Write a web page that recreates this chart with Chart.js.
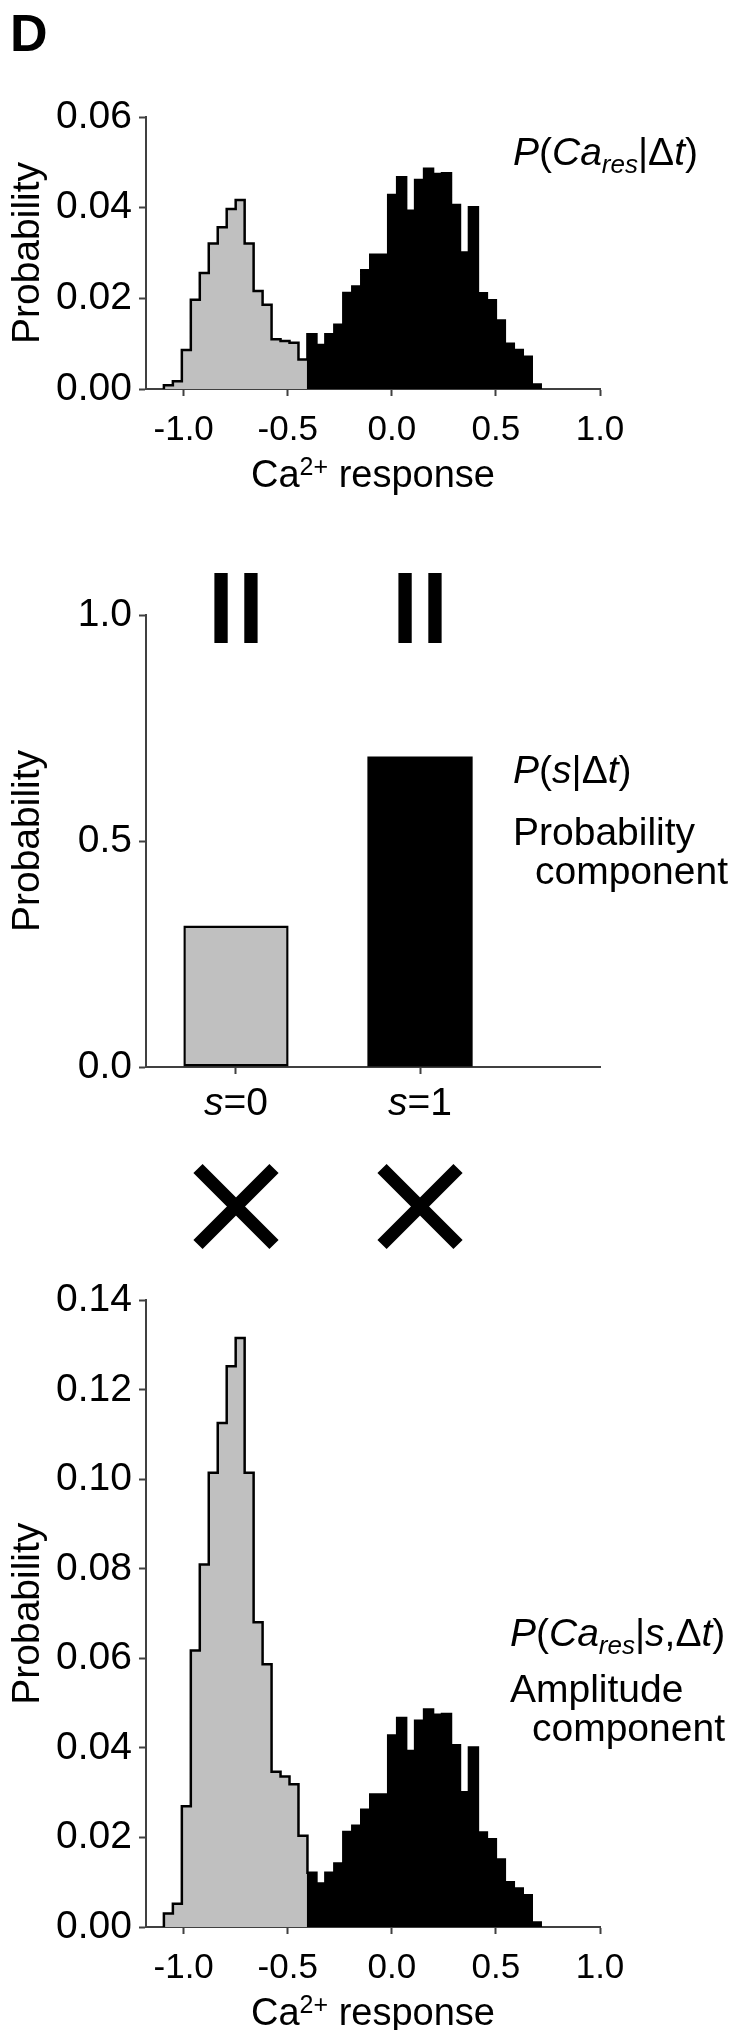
<!DOCTYPE html>
<html>
<head>
<meta charset="utf-8">
<script src="https://cdn.jsdelivr.net/npm/chart.js@4.4.1/dist/chart.umd.min.js"></script>
<style>
  html, body { margin: 0; padding: 0; background: #fff; }
  body { width: 739px; height: 2030px; position: relative; overflow: hidden; }
  canvas { position: absolute; left: 0; }
</style>
</head>
<body>
<canvas id="mixChart" width="739" height="500" style="top:0"></canvas>
<canvas id="stateChart" width="739" height="770" style="top:500px"></canvas>
<canvas id="ampChart" width="739" height="760" style="top:1270px"></canvas>
<script>
// histogram bins on the Ca2+ response axis (first 16 bins are s=0)
const binStart = -1.095;
const binWidth = 0.0431;

// P(Ca_res | dt): s=0 part and s=1 part
const mixSilent = [0.0008, 0.0017, 0.0086, 0.0197, 0.0256, 0.0321, 0.0357, 0.0397,
                   0.0417, 0.0321, 0.0216, 0.0186, 0.0110, 0.0106, 0.0102, 0.0065];
const evoked = [0.0121, 0.0097, 0.0121, 0.0142, 0.0212, 0.0226, 0.0262, 0.0296, 0.0296,
                0.0428, 0.0467, 0.0393, 0.0461, 0.0486, 0.0474, 0.0476, 0.0406, 0.0301,
                0.0401, 0.0211, 0.0196, 0.0151, 0.0100, 0.0086, 0.0071, 0.0010];
// P(Ca_res | s, dt) for s=0 (s=1 part is drawn from the same evoked values)
const ampSilent = [0.0030, 0.0052, 0.0270, 0.0618, 0.0810, 0.1015, 0.1126, 0.1253,
                   0.1316, 0.1015, 0.0681, 0.0587, 0.0347, 0.0336, 0.0319, 0.0204];

// P(s | dt)
const states = ['0', '1'];
const stateProb = [0.313, 0.687];

// axes
const respMin = -1.181, respMax = 1.0;
const respTicks = [-1, -0.5, 0, 0.5, 1];
const respLabels = ['-1.0', '-0.5', '0.0', '0.5', '1.0'];
const mixTicks = [0, 0.02, 0.04, 0.06];
const mixLabels = ['0.00', '0.02', '0.04', '0.06'];
const stateTicks = [0, 0.5, 1];
const stateLabels = ['0.0', '0.5', '1.0'];
const ampTicks = [0, 0.02, 0.04, 0.06, 0.08, 0.10, 0.12, 0.14];
const ampLabels = ['0.00', '0.02', '0.04', '0.06', '0.08', '0.10', '0.12', '0.14'];
const stateMin = -0.489, stateMax = 1.978;

const FONT = '"Liberation Sans", Arial, Helvetica, sans-serif';
const GRAY = 'rgb(192,192,192)';
const AXIS = '#404040';

Chart.defaults.font.family = FONT;
Chart.defaults.color = '#000';

function font(size, italic, bold) {
  return (italic ? 'italic ' : '') + (bold ? 'bold ' : '') + size + 'px ' + FONT;
}

function runsWidth(ctx, runs, size) {
  let w = 0;
  runs.forEach(r => { ctx.font = font(r.size || size, r.italic, r.bold); w += ctx.measureText(r.text).width; });
  return w;
}

function drawRuns(ctx, x, y, runs, size) {
  ctx.save();
  ctx.fillStyle = '#000';
  ctx.textAlign = 'left';
  ctx.textBaseline = 'alphabetic';
  runs.forEach(r => {
    ctx.font = font(r.size || size, r.italic, r.bold);
    ctx.fillText(r.text, x, y + (r.dy || 0));
    x += ctx.measureText(r.text).width;
  });
  ctx.restore();
}

function drawRunsCentered(ctx, cx, y, runs, size) {
  drawRuns(ctx, cx - runsWidth(ctx, runs, size) / 2, y, runs, size);
}

function histDatasets(silent, evokedPart) {
  const vals = silent.concat(evokedPart);
  const n = vals.length;
  const bars = vals.map((v, i) => ({ x: binStart + (i + 0.5) * binWidth, y: v }));
  const outline = [{ x: binStart, y: 0 }];
  vals.forEach((v, i) => outline.push({ x: binStart + i * binWidth, y: v }));
  outline.push({ x: binStart + n * binWidth, y: vals[n - 1] });
  outline.push({ x: binStart + n * binWidth, y: 0 });
  return [
    {
      type: 'line', data: outline, stepped: 'before', borderColor: '#000',
      borderWidth: 2.5, pointRadius: 0, fill: false, order: 0
    },
    {
      type: 'bar', data: bars, order: 1, borderWidth: 0, inflateAmount: 0.5,
      backgroundColor: vals.map((v, i) => i < silent.length ? GRAY : '#000'),
      barPercentage: 1, categoryPercentage: 1
    }
  ];
}

const gridStyle = {
  drawOnChartArea: false, offset: false, color: AXIS,
  tickColor: AXIS, tickLength: 7, tickWidth: 2
};

function respAxis(height) {
  return {
    type: 'linear', min: respMin, max: respMax, offset: false, z: 1,
    border: { color: AXIS, width: 2 },
    grid: gridStyle,
    ticks: {
      font: { size: 35 }, color: '#000', padding: 13, maxRotation: 0, autoSkip: false,
      callback: (v, i) => respLabels[i]
    },
    afterBuildTicks: s => { s.ticks = respTicks.map(v => ({ value: v })); },
    afterFit: s => { s.height = height; }
  };
}

function probAxis(ticks, labels) {
  return {
    type: 'linear', min: ticks[0], max: ticks[ticks.length - 1], z: 1,
    border: { color: AXIS, width: 2 },
    grid: gridStyle,
    ticks: { font: { size: 39 }, color: '#000', padding: 7, autoSkip: false, callback: (v, i) => labels[i] },
    afterBuildTicks: s => { s.ticks = ticks.map(v => ({ value: v })); },
    afterFit: s => { s.width = 146; },
    title: { display: true, text: 'Probability', font: { size: 39 }, color: '#000', padding: { top: 5, bottom: 0 } }
  };
}

const baseOptions = {
  responsive: false,
  animation: false,
  events: [],
  plugins: { legend: { display: false }, tooltip: { enabled: false } }
};

const caTitle = [{ text: 'Ca' }, { text: '2+', size: 25, dy: -12 }, { text: ' response' }];

// top: mixture of both states
new Chart(document.getElementById('mixChart'), {
  type: 'bar',
  data: { datasets: histDatasets(mixSilent, evoked) },
  options: Object.assign({}, baseOptions, {
    layout: { padding: { top: 117, right: 139, left: 0, bottom: 0 } },
    scales: { x: respAxis(111), y: probAxis(mixTicks, mixLabels) }
  }),
  plugins: [{
    id: 'mixText',
    afterDraw(chart) {
      const ctx = chart.ctx, area = chart.chartArea;
      drawRuns(ctx, 10, 51, [{ text: 'D', bold: true }], 52);
      drawRuns(ctx, 513, 165, [
        { text: 'P', italic: true }, { text: '(' }, { text: 'Ca', italic: true },
        { text: 'res', italic: true, size: 26, dy: 8 }, { text: '|' }, { text: '\u0394' },
        { text: 't', italic: true }, { text: ')' }
      ], 39);
      drawRunsCentered(ctx, (area.left + area.right) / 2, 487, caTitle, 38);
    }
  }]
});

// middle: probability of each state
new Chart(document.getElementById('stateChart'), {
  type: 'bar',
  data: {
    datasets: [{
      data: states.map((s, i) => ({ x: i, y: stateProb[i] })),
      backgroundColor: [GRAY, '#000'],
      borderColor: '#000',
      borderWidth: [2.5, 0],
      borderSkipped: false,
      barPercentage: 0.572,
      categoryPercentage: 1
    }]
  },
  options: Object.assign({}, baseOptions, {
    layout: { padding: { top: 115, right: 139, left: 0, bottom: 0 } },
    scales: {
      x: {
        type: 'linear', min: stateMin, max: stateMax, offset: false, z: 1,
        border: { color: AXIS, width: 2 },
        grid: gridStyle,
        ticks: { display: false },
        afterBuildTicks: s => { s.ticks = states.map((c, i) => ({ value: i })); },
        afterFit: s => { s.height = 203; }
      },
      y: probAxis(stateTicks, stateLabels)
    }
  }),
  plugins: [{
    id: 'stateText',
    afterDraw(chart) {
      const ctx = chart.ctx, xs = chart.scales.x;
      ctx.save();
      ctx.fillStyle = '#000';
      ctx.strokeStyle = '#000';
      states.forEach((s, i) => {
        const cx = xs.getPixelForValue(i);
        // upright equals sign above each bar
        ctx.fillRect(cx - 21.6, 73, 13.3, 70);
        ctx.fillRect(cx + 8.3, 73, 13.3, 70);
        // multiplication sign under each state
        ctx.lineWidth = 13;
        ctx.lineCap = 'butt';
        ctx.beginPath();
        ctx.moveTo(cx - 38, 668.5); ctx.lineTo(cx + 38, 744.5);
        ctx.moveTo(cx + 38, 668.5); ctx.lineTo(cx - 38, 744.5);
        ctx.stroke();
        drawRunsCentered(ctx, cx, 615, [{ text: 's', italic: true }, { text: '=' + s }], 39);
      });
      ctx.restore();
      drawRuns(ctx, 513, 283, [
        { text: 'P', italic: true }, { text: '(' }, { text: 's', italic: true },
        { text: '|' }, { text: '\u0394' }, { text: 't', italic: true }, { text: ')' }
      ], 39);
      drawRuns(ctx, 513, 345, [{ text: 'Probability' }], 39);
      drawRuns(ctx, 535, 384, [{ text: 'component' }], 39);
    }
  }]
});

// bottom: amplitude distribution given the state
new Chart(document.getElementById('ampChart'), {
  type: 'bar',
  data: { datasets: histDatasets(ampSilent, evoked) },
  options: Object.assign({}, baseOptions, {
    layout: { padding: { top: 23, right: 139, left: 0, bottom: 0 } },
    scales: { x: respAxis(103), y: probAxis(ampTicks, ampLabels) }
  }),
  plugins: [{
    id: 'ampText',
    afterDraw(chart) {
      const ctx = chart.ctx, area = chart.chartArea;
      drawRuns(ctx, 510, 376, [
        { text: 'P', italic: true }, { text: '(' }, { text: 'Ca', italic: true },
        { text: 'res', italic: true, size: 26, dy: 8 }, { text: '|' }, { text: 's', italic: true },
        { text: ',' }, { text: '\u0394' }, { text: 't', italic: true }, { text: ')' }
      ], 39);
      drawRuns(ctx, 510, 432, [{ text: 'Amplitude' }], 39);
      drawRuns(ctx, 532, 471, [{ text: 'component' }], 39);
      drawRunsCentered(ctx, (area.left + area.right) / 2, 755, caTitle, 38);
    }
  }]
});
</script>
</body>
</html>
